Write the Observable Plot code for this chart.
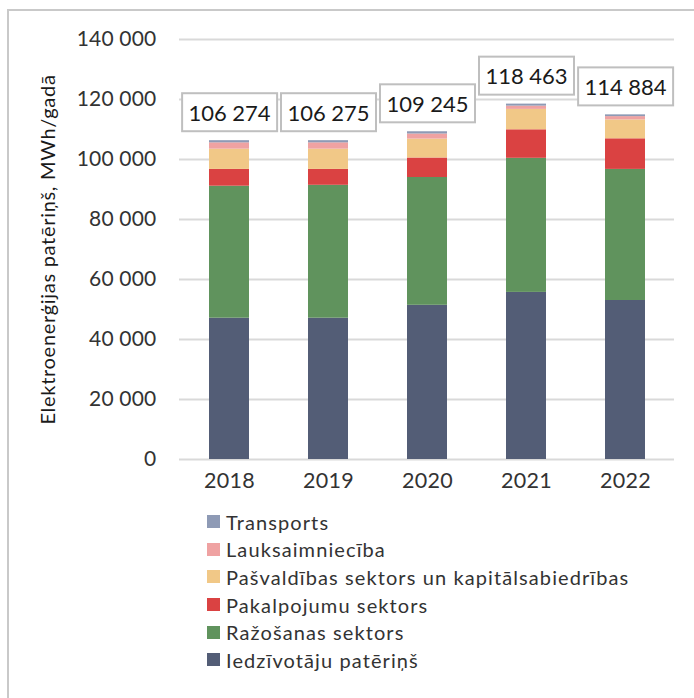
<!DOCTYPE html>
<html>
<head>
<meta charset="utf-8">
<script src="https://cdn.jsdelivr.net/npm/d3@7"></script>
<script src="https://cdn.jsdelivr.net/npm/@observablehq/plot@0.6"></script>
<style>
  html, body { margin: 0; padding: 0; background: #fff; }
  #wrap { position: relative; width: 694px; height: 698px; overflow: hidden; font-family: Lato, sans-serif; }
  #frame { position: absolute; left: 7px; top: 9px; width: 800px; height: 800px; border-top: 2px solid #C9C9C9; border-left: 2px solid #C9C9C9; box-sizing: border-box; }
  #chart { position: absolute; left: 0; top: 0; }
  #legend { position: absolute; left: 207px; top: 508px; font-size: 20px; letter-spacing: 1.1px; color: #333; }
  .li { height: 27.6px; display: flex; align-items: center; white-space: nowrap; }
  .sw { width: 13px; height: 13px; margin-right: 6px; flex: none; }
  #chart g[aria-label="y-axis tick label"] text { letter-spacing: 0.2px; }
  #chart g[aria-label="x-axis tick label"] text { letter-spacing: 0.3px; }
  #chart g.ylab text { letter-spacing: 0.7px; }
</style>
</head>
<body>
<div id="wrap">
  <div id="frame"></div>
  <div id="chart"></div>
  <div id="legend"></div>
</div>
<script>
// ---- data ----
const years = ["2018", "2019", "2020", "2021", "2022"];
const sectors = [
  "Iedzīvotāju patēriņš",
  "Ražošanas sektors",
  "Pakalpojumu sektors",
  "Pašvaldības sektors un kapitālsabiedrības",
  "Lauksaimniecība",
  "Transports"
];
const colors = ["#535D76", "#60935D", "#DA4242", "#F1C887", "#EFA2A2", "#8E9AB5"];
const iedzivotaji = [47100, 47100, 51400, 55700, 53000];
const razosana = [44000, 44300, 42600, 44700, 43700];
const pakalpojumi = [5600, 5300, 6500, 9500, 10200];
const pasvaldibas = [6750, 6750, 6300, 6800, 6300];
const lauksaimnieciba = [2100, 2100, 1700, 1100, 1100];
const transports = [724, 725, 745, 663, 584];
const totals = [106274, 106275, 109245, 118463, 114884];
const yTicks = [0, 20000, 40000, 60000, 80000, 100000, 120000, 140000];
const yLabel = "Elektroenerģijas patēriņš, MWh/gadā";

// ---- build table ----
const series = [iedzivotaji, razosana, pakalpojumi, pasvaldibas, lauksaimnieciba, transports];
const rows = [];
sectors.forEach((s, si) => years.forEach((y, yi) => rows.push({year: y, sector: s, value: series[si][yi]})));
const totalRows = years.map((y, i) => ({year: y, total: totals[i]}));

const fmt = d3.formatLocale({decimal: ",", thousands: "\u00a0", grouping: [3], currency: ["", ""]}).format(",d");

const chart = Plot.plot({
  width: 694,
  height: 504,
  marginLeft: 179,
  marginRight: 20,
  marginTop: 39,
  marginBottom: 45,
  style: {fontFamily: "Lato, sans-serif", color: "#333", background: "transparent", overflow: "visible"},
  x: {domain: years, paddingInner: 0.6, paddingOuter: 0.3, label: null},
  y: {domain: [0, 140000], label: null},
  color: {domain: sectors, range: colors},
  marks: [
    Plot.gridY(yTicks, {stroke: "#D9D9D9", strokeOpacity: 1, strokeWidth: 2}),
    Plot.barY(rows, {x: "year", y: "value", fill: "sector", order: sectors}),
    Plot.axisY(yTicks, {tickSize: 0, tickPadding: 23, tickFormat: fmt, fontSize: 21, label: null}),
    Plot.axisX({tickSize: 0, tickPadding: 13, fontSize: 21.5, label: null}),
    Plot.text([yLabel], {frameAnchor: "left", rotate: -90, dx: -131, fontSize: 20, fill: "#1a1a1a", text: d => d, textAnchor: "middle", lineAnchor: "middle", className: "ylab"}),
    Plot.text(totalRows, {x: "year", y: "total", text: d => fmt(d.total), dy: -27, fontSize: 22, fill: "#1a1a1a", lineAnchor: "middle", className: "totals"})
  ]
});
document.getElementById("chart").appendChild(chart);

// boxes around total labels
const svg = document.querySelector("#chart svg");
svg.querySelectorAll("g.totals text").forEach(t => {
  const b = t.getBBox();
  const cx = b.x + b.width / 2, cy = b.y + b.height / 2;
  const r = document.createElementNS("http://www.w3.org/2000/svg", "rect");
  r.setAttribute("x", cx - 47.5);
  r.setAttribute("y", cy - 19);
  r.setAttribute("width", 95);
  r.setAttribute("height", 38);
  r.setAttribute("fill", "white");
  r.setAttribute("stroke", "#BFBFBF");
  r.setAttribute("stroke-width", 2);
  if (t.getAttribute("transform")) r.setAttribute("transform", t.getAttribute("transform"));
  t.parentNode.insertBefore(r, t);
});

// legend (top to bottom: reverse of stack)
const legend = document.getElementById("legend");
sectors.slice().reverse().forEach(s => {
  const i = sectors.indexOf(s);
  const li = document.createElement("div");
  li.className = "li";
  li.innerHTML = `<span class="sw" style="background:${colors[i]}"></span><span>${s}</span>`;
  legend.appendChild(li);
});
</script>
</body>
</html>
